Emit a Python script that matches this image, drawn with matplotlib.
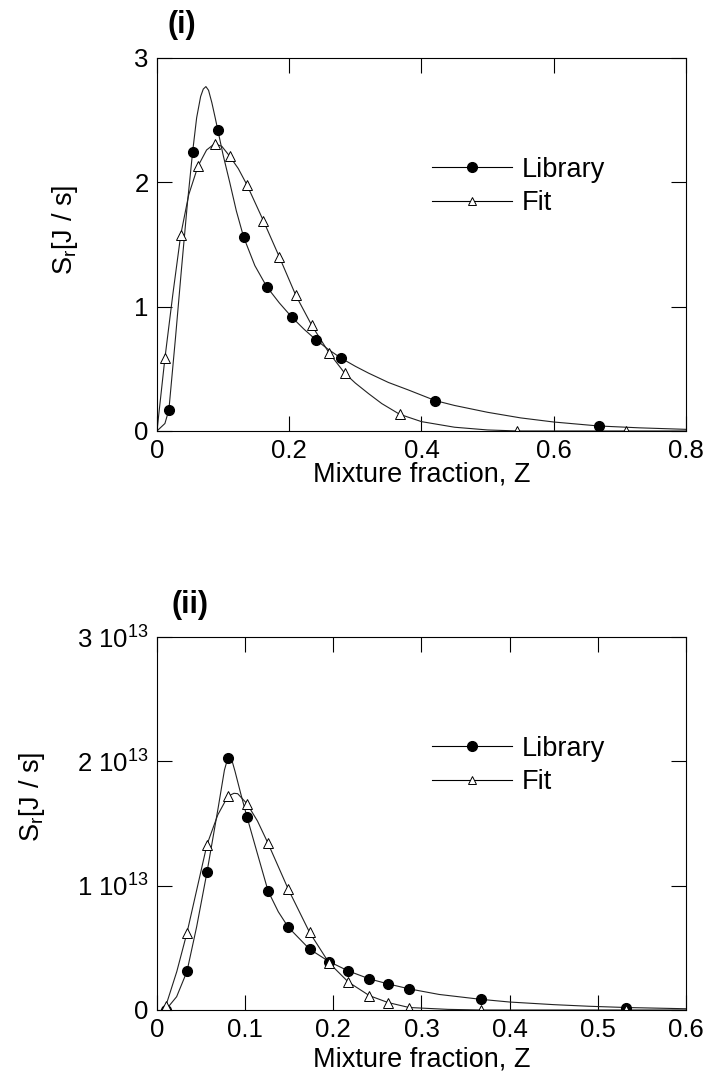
import matplotlib
matplotlib.use("Agg")
import matplotlib.pyplot as plt
import numpy as np
from matplotlib.lines import Line2D
from matplotlib.ticker import FixedLocator, FuncFormatter

plt.rcParams['font.family'] = ['Liberation Sans', 'DejaVu Sans']
plt.rcParams['mathtext.fontset'] = 'custom'
plt.rcParams['mathtext.rm'] = 'Liberation Sans'
plt.rcParams['mathtext.it'] = 'Liberation Sans'

# ---- panel (i) ----
# library curve and its marker points
lib1_z = [0.0, 0.012, 0.018, 0.028, 0.037, 0.046, 0.054, 0.060, 0.066, 0.070, 0.074,
          0.078, 0.083, 0.088, 0.092, 0.100, 0.110, 0.120, 0.131, 0.148, 0.166,
          0.185, 0.204, 0.222, 0.240, 0.258, 0.278, 0.30, 0.32, 0.35, 0.38,
          0.421, 0.45, 0.50, 0.55, 0.60, 0.668, 0.73, 0.8]
lib1_s = [0.0, 0.06, 0.17, 0.75, 1.30, 1.83, 2.25, 2.52, 2.69, 2.75, 2.77,
          2.74, 2.64, 2.52, 2.42, 2.22, 2.00, 1.77, 1.56, 1.33, 1.16,
          1.03, 0.915, 0.82, 0.735, 0.66, 0.587, 0.52, 0.465, 0.39, 0.33,
          0.244, 0.205, 0.15, 0.105, 0.072, 0.04, 0.025, 0.013]
lib1_mz = [0.018, 0.054, 0.092, 0.131, 0.166, 0.204, 0.240, 0.278, 0.421, 0.668]
lib1_ms = [0.17, 2.24, 2.42, 1.56, 1.16, 0.915, 0.735, 0.587, 0.244, 0.04]

fit1_z = [0.0, 0.012, 0.024, 0.036, 0.048, 0.062, 0.075, 0.087, 0.098, 0.110, 0.123,
          0.136, 0.161, 0.185, 0.210, 0.234, 0.260, 0.284, 0.30, 0.32, 0.34,
          0.367, 0.40, 0.45, 0.50, 0.545, 0.71, 0.8]
fit1_s = [0.0, 0.585, 1.10, 1.58, 1.90, 2.13, 2.26, 2.31, 2.29, 2.21, 2.11,
          1.98, 1.69, 1.40, 1.09, 0.85, 0.63, 0.464, 0.385, 0.30, 0.22,
          0.134, 0.075, 0.03, 0.008, 0.0, 0.0, 0.0]
fit1_mz = [0.012, 0.036, 0.062, 0.087, 0.110, 0.136, 0.161, 0.185, 0.210, 0.234,
           0.260, 0.284, 0.367, 0.545, 0.710]
fit1_ms = [0.585, 1.58, 2.13, 2.31, 2.21, 1.98, 1.69, 1.40, 1.09, 0.85,
           0.63, 0.464, 0.134, 0.0, 0.0]

# ---- panel (ii) ----  (values in units of 1e13 J/s)
lib2_z = [0.0099, 0.0223, 0.034, 0.045, 0.0567, 0.0696, 0.0765, 0.0805, 0.0845, 0.0885,
          0.095, 0.102, 0.1138, 0.126, 0.1376, 0.149, 0.173, 0.195, 0.217, 0.241,
          0.262, 0.286, 0.32, 0.367, 0.40, 0.45, 0.49, 0.532, 0.6]
lib2_s = [0.0, 0.107, 0.31, 0.67, 1.108, 1.635, 1.93, 2.03, 2.02, 1.92,
          1.74, 1.555, 1.26, 0.957, 0.79, 0.665, 0.49, 0.39, 0.314, 0.25,
          0.21, 0.17, 0.125, 0.086, 0.064, 0.043, 0.03, 0.02, 0.01]
lib2_mz = [0.0099, 0.034, 0.0567, 0.0805, 0.102, 0.126, 0.149, 0.173, 0.195,
           0.217, 0.241, 0.262, 0.286, 0.367, 0.532]
lib2_ms = [0.0, 0.31, 1.108, 2.03, 1.555, 0.957, 0.665, 0.49, 0.39,
           0.314, 0.25, 0.21, 0.17, 0.086, 0.02]

fit2_z = [0.005, 0.0099, 0.0225, 0.034, 0.0567, 0.069, 0.0805, 0.0873, 0.0915, 0.102,
          0.114, 0.126, 0.149, 0.173, 0.195, 0.217, 0.241, 0.262, 0.286, 0.33,
          0.367, 0.532, 0.6]
fit2_s = [0.0, 0.03, 0.31, 0.62, 1.33, 1.57, 1.72, 1.743, 1.74, 1.66,
          1.52, 1.34, 0.97, 0.625, 0.38, 0.225, 0.115, 0.06, 0.02, 0.005,
          0.0, 0.0, 0.0]
fit2_mz = [0.0099, 0.034, 0.0567, 0.0805, 0.102, 0.126, 0.149, 0.173, 0.195,
           0.217, 0.241, 0.262, 0.286, 0.367, 0.532]
fit2_ms = [0.03, 0.62, 1.33, 1.72, 1.66, 1.34, 0.97, 0.625, 0.38,
           0.225, 0.115, 0.06, 0.02, 0.0, 0.0]

SCALE2 = 1e13


def num_fmt(v, pos):
    if abs(v) < 1e-12:
        return '0'
    return '%g' % v


def sci_fmt(v, pos):
    if abs(v) < 1:
        return '0'
    return r'%d 10$^{13}$' % round(v / SCALE2)


def draw(ax, lz, ls, lmz, lms, fz, fs, fmz, fms, scale, xpad):
    lc = '#222222'
    ax.plot(lz, np.array(ls) * scale, '-', color=lc, lw=0.8)
    ax.plot(fz, np.array(fs) * scale, '-', color=lc, lw=0.8)
    ax.plot(lmz, np.array(lms) * scale, 'o', color='black', ms=7, ls='none')
    ax.plot(fmz, np.array(fms) * scale, '^', mfc='white', mec='black', mew=0.7,
            ms=7, ls='none')
    ax.tick_params(direction='in', length=11, width=0.8, top=True, right=True,
                   labelsize=18.5, pad=6)
    for sp in ax.spines.values():
        sp.set_linewidth(0.8)
    ax.set_xlabel('Mixture fraction, Z', fontsize=19.5, labelpad=xpad)
    ax.set_ylabel(r'S$_{\mathrm{r}}$[J / s]', fontsize=19.5)
    handles = [Line2D([], [], color='black', lw=0.8, marker='o', ms=7),
               Line2D([], [], color='black', lw=0.8, marker='^', mfc='white',
                      mec='black', mew=0.7, ms=6)]
    ax.legend(handles, ['Library', 'Fit'], loc='upper left',
              bbox_to_anchor=(0.52, 0.735), frameon=False, fontsize=19.5,
              handlelength=2.95, handletextpad=0.37, labelspacing=0.28,
              borderpad=0, borderaxespad=0)


fig = plt.figure(figsize=(7.1, 10.88), dpi=100)
ax1 = fig.add_axes([0.2211, 0.6039, 0.7451, 0.3428])
ax2 = fig.add_axes([0.2211, 0.0717, 0.7451, 0.3428])

draw(ax1, lib1_z, lib1_s, lib1_mz, lib1_ms, fit1_z, fit1_s, fit1_mz, fit1_ms, 1.0, -1)
ax1.set_xlim(0, 0.8)
ax1.set_ylim(0, 3)
ax1.xaxis.set_major_locator(FixedLocator([0, 0.2, 0.4, 0.6, 0.8]))
ax1.yaxis.set_major_locator(FixedLocator([0, 1, 2, 3]))
ax1.xaxis.set_major_formatter(FuncFormatter(num_fmt))
ax1.yaxis.set_major_formatter(FuncFormatter(num_fmt))
ax1.yaxis.set_label_coords(-0.146, 0.54)
ax1.text(0.046, 1.088, '(i)', transform=ax1.transAxes, fontsize=22,
         fontweight='bold', ha='center', va='center')

draw(ax2, lib2_z, lib2_s, lib2_mz, lib2_ms, fit2_z, fit2_s, fit2_mz, fit2_ms, SCALE2, 3)
ax2.set_xlim(0, 0.6)
ax2.set_ylim(0, 3 * SCALE2)
ax2.xaxis.set_major_locator(FixedLocator([0, 0.1, 0.2, 0.3, 0.4, 0.5, 0.6]))
ax2.yaxis.set_major_locator(FixedLocator([0, SCALE2, 2 * SCALE2, 3 * SCALE2]))
ax2.xaxis.set_major_formatter(FuncFormatter(num_fmt))
ax2.yaxis.set_major_formatter(FuncFormatter(sci_fmt))
ax2.yaxis.set_label_coords(-0.208, 0.57)
ax2.text(0.062, 1.086, '(ii)', transform=ax2.transAxes, fontsize=22,
         fontweight='bold', ha='center', va='center')

fig.savefig('out.png', dpi=100)
